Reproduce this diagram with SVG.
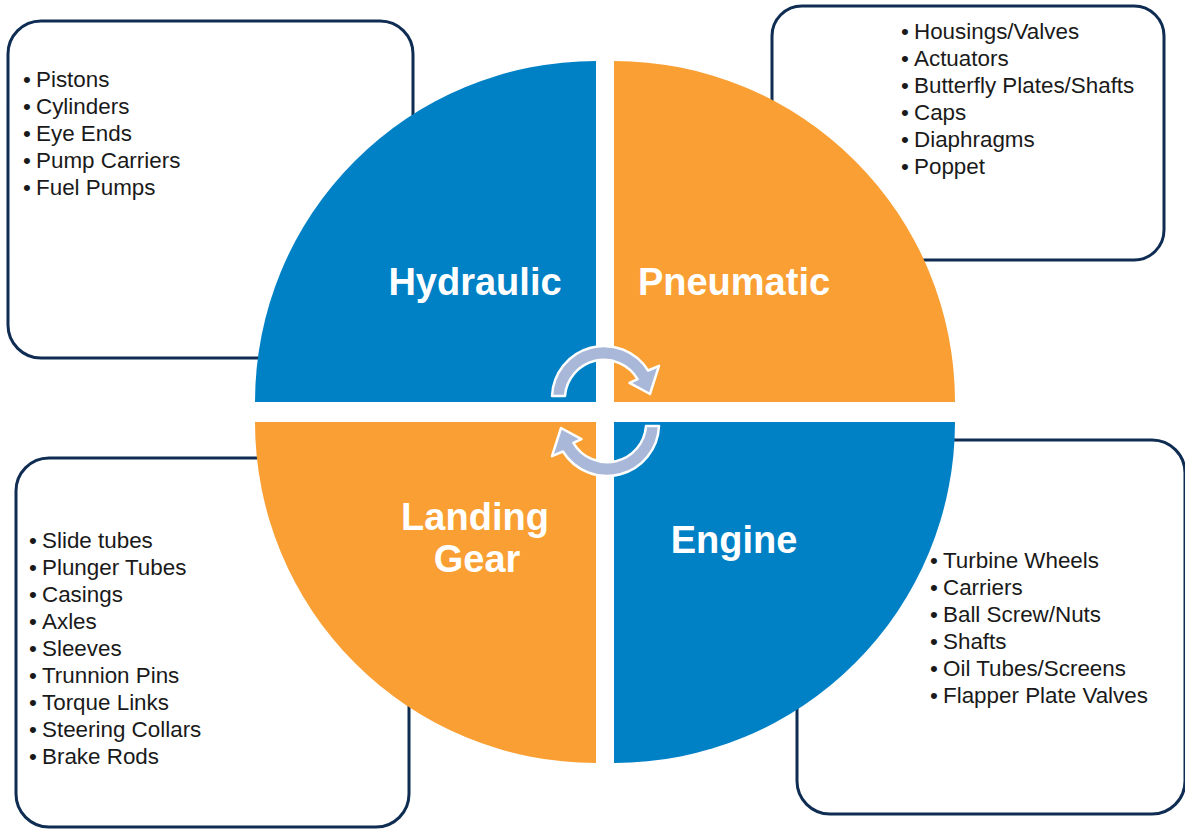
<svg xmlns="http://www.w3.org/2000/svg" width="1185" height="830" viewBox="0 0 1185 830">
<style>
.box{fill:#ffffff;stroke:#0f2d52;stroke-width:3}
.item{font-family:"Liberation Sans",Arial,sans-serif;font-size:22.4px;fill:#1a1a1a}
.lbl{font-family:"Liberation Sans",Arial,sans-serif;font-size:38px;font-weight:bold;fill:#ffffff;text-anchor:middle}
.blue{fill:#0081c6}
.orange{fill:#f99f33}
.arrow{fill:#a9b8d9;stroke:#ffffff;stroke-width:2.5;stroke-linejoin:round}
</style>
<rect width="1185" height="830" fill="#ffffff"/>
<g id="box-hydraulic">
<rect class="box" x="8" y="21" width="405" height="337" rx="33"/>
<text class="item"><tspan x="23" y="87">•</tspan><tspan x="36" y="87">Pistons</tspan></text>
<text class="item"><tspan x="23" y="114">•</tspan><tspan x="36" y="114">Cylinders</tspan></text>
<text class="item"><tspan x="23" y="141">•</tspan><tspan x="36" y="141">Eye Ends</tspan></text>
<text class="item"><tspan x="23" y="168">•</tspan><tspan x="36" y="168">Pump Carriers</tspan></text>
<text class="item"><tspan x="23" y="195">•</tspan><tspan x="36" y="195">Fuel Pumps</tspan></text>
</g>
<g id="box-pneumatic">
<rect class="box" x="772" y="6" width="392" height="254" rx="30"/>
<text class="item"><tspan x="901" y="39">•</tspan><tspan x="914" y="39">Housings/Valves</tspan></text>
<text class="item"><tspan x="901" y="66">•</tspan><tspan x="914" y="66">Actuators</tspan></text>
<text class="item"><tspan x="901" y="93">•</tspan><tspan x="914" y="93">Butterfly Plates/Shafts</tspan></text>
<text class="item"><tspan x="901" y="120">•</tspan><tspan x="914" y="120">Caps</tspan></text>
<text class="item"><tspan x="901" y="147">•</tspan><tspan x="914" y="147">Diaphragms</tspan></text>
<text class="item"><tspan x="901" y="174">•</tspan><tspan x="914" y="174">Poppet</tspan></text>
</g>
<g id="box-landing">
<rect class="box" x="16" y="458" width="393" height="369" rx="33"/>
<text class="item"><tspan x="29" y="548">•</tspan><tspan x="42" y="548">Slide tubes</tspan></text>
<text class="item"><tspan x="29" y="575">•</tspan><tspan x="42" y="575">Plunger Tubes</tspan></text>
<text class="item"><tspan x="29" y="602">•</tspan><tspan x="42" y="602">Casings</tspan></text>
<text class="item"><tspan x="29" y="629">•</tspan><tspan x="42" y="629">Axles</tspan></text>
<text class="item"><tspan x="29" y="656">•</tspan><tspan x="42" y="656">Sleeves</tspan></text>
<text class="item"><tspan x="29" y="683">•</tspan><tspan x="42" y="683">Trunnion Pins</tspan></text>
<text class="item"><tspan x="29" y="710">•</tspan><tspan x="42" y="710">Torque Links</tspan></text>
<text class="item"><tspan x="29" y="737">•</tspan><tspan x="42" y="737">Steering Collars</tspan></text>
<text class="item"><tspan x="29" y="764">•</tspan><tspan x="42" y="764">Brake Rods</tspan></text>
</g>
<g id="box-engine">
<rect class="box" x="797" y="440" width="388" height="374" rx="33"/>
<text class="item"><tspan x="930" y="568">•</tspan><tspan x="943" y="568">Turbine Wheels</tspan></text>
<text class="item"><tspan x="930" y="595">•</tspan><tspan x="943" y="595">Carriers</tspan></text>
<text class="item"><tspan x="930" y="622">•</tspan><tspan x="943" y="622">Ball Screw/Nuts</tspan></text>
<text class="item"><tspan x="930" y="649">•</tspan><tspan x="943" y="649">Shafts</tspan></text>
<text class="item"><tspan x="930" y="676">•</tspan><tspan x="943" y="676">Oil Tubes/Screens</tspan></text>
<text class="item"><tspan x="930" y="703">•</tspan><tspan x="943" y="703">Flapper Plate Valves</tspan></text>
</g>
<g id="quad-hydraulic">
<path class="blue" d="M596 402 L255 402 A341 341 0 0 1 596 61 Z"/>
<text class="lbl" x="475" y="295">Hydraulic</text>
</g>
<g id="quad-pneumatic">
<path class="orange" d="M614 402 L614 61 A341 341 0 0 1 955 402 Z"/>
<text class="lbl" x="734" y="295">Pneumatic</text>
</g>
<g id="quad-engine">
<path class="blue" d="M614 422 L955 422 A341 341 0 0 1 614 763 Z"/>
<text class="lbl" x="734" y="553">Engine</text>
</g>
<g id="quad-landing">
<path class="orange" d="M596 422 L596 763 A341 341 0 0 1 255 422 Z"/>
<text class="lbl" x="475" y="530">Landing</text>
<text class="lbl" x="477" y="572">Gear</text>
</g>
<g id="connectors">
<path id="arrow-top" class="arrow" d="M552 396 A52 52 0 0 1 648.1 370.5 L659 365.8 L650 394 L629.5 382.9 L637.6 379.2 A39 39 0 0 0 565 396 Z"/>
<path id="arrow-bottom" class="arrow" transform="rotate(180 605.5 411)" d="M552 396 A52 52 0 0 1 648.1 370.5 L659 365.8 L650 394 L629.5 382.9 L637.6 379.2 A39 39 0 0 0 565 396 Z"/>
</g>
</svg>
